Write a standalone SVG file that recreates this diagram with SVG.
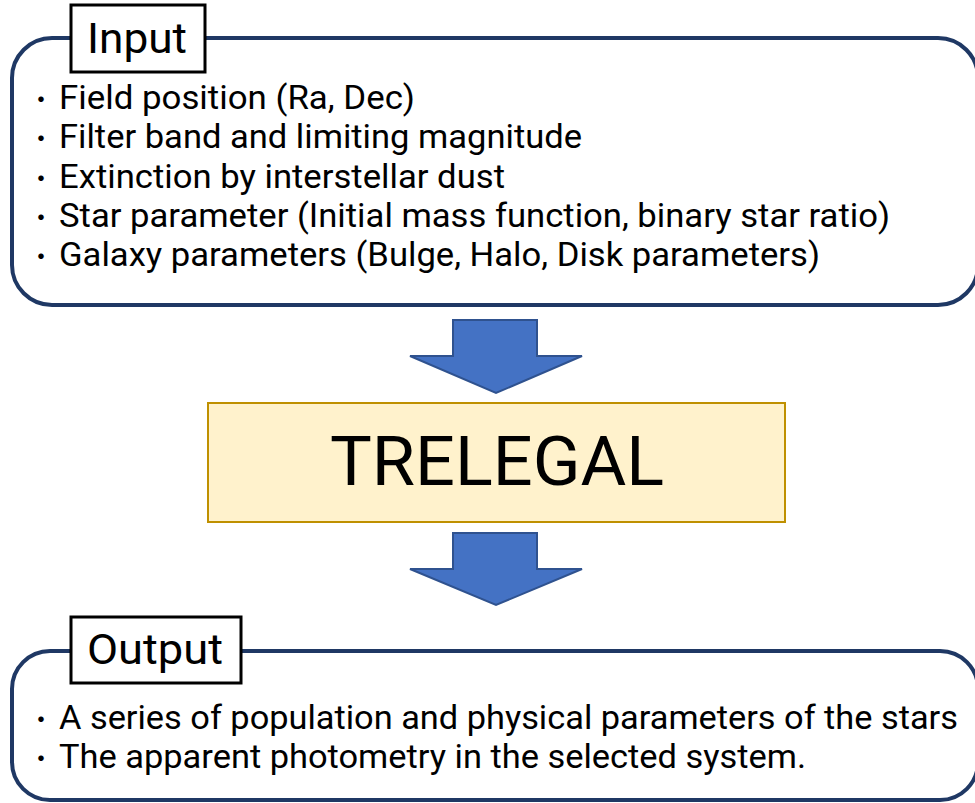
<svg xmlns="http://www.w3.org/2000/svg" width="975" height="803" viewBox="0 0 975 803">
<style>
.frame{fill:#fff;stroke:#1f3864;stroke-width:4}
.lbl{fill:#fff;stroke:#000;stroke-width:3}
.t{font-family:Roboto,"Noto Sans",sans-serif;fill:#000}
.b{font-family:"Noto Sans CJK JP",sans-serif;font-size:26px;fill:#000}
.item{font-size:33px}
.head{font-size:42px}
.arrow{fill:#4472c4;stroke:#2f528f;stroke-width:2;stroke-linejoin:miter}
</style>
<rect width="975" height="803" fill="#fff"/>
<g id="input">
<rect class="frame" x="12" y="38" width="966" height="267" rx="40" ry="40"/>
<rect class="lbl" x="71" y="5" width="134" height="67"/>
<text class="t head" x="87" y="53" textLength="100" lengthAdjust="spacingAndGlyphs">Input</text>
<text class="b" x="28" y="109">・</text>
<text class="t item" x="59" y="109" textLength="356" lengthAdjust="spacingAndGlyphs">Field position (Ra, Dec)</text>
<text class="b" x="28" y="148">・</text>
<text class="t item" x="59" y="148" textLength="523" lengthAdjust="spacingAndGlyphs">Filter band and limiting magnitude</text>
<text class="b" x="28" y="188">・</text>
<text class="t item" x="59" y="188" textLength="446" lengthAdjust="spacingAndGlyphs">Extinction by interstellar dust</text>
<text class="b" x="28" y="227">・</text>
<text class="t item" x="59" y="227" textLength="831" lengthAdjust="spacingAndGlyphs">Star parameter (Initial mass function, binary star ratio)</text>
<text class="b" x="28" y="266">・</text>
<text class="t item" x="59" y="266" textLength="761" lengthAdjust="spacingAndGlyphs">Galaxy parameters (Bulge, Halo, Disk parameters)</text>
</g>
<g id="connectors">
<polygon class="arrow" points="453,320 537,320 537,356 582,356 496,393 410,356 453,356"/>
<polygon class="arrow" points="453,533 537,533 537,569 582,569 496,605 410,569 453,569"/>
</g>
<g id="trelegal">
<rect x="208" y="403" width="577" height="119" fill="#fff2cc" stroke="#bf9000" stroke-width="2"/>
<text class="t" x="497" y="485" font-size="68" text-anchor="middle" textLength="334" lengthAdjust="spacingAndGlyphs">TRELEGAL</text>
</g>
<g id="output">
<rect class="frame" x="12" y="651" width="966" height="149" rx="38" ry="38"/>
<rect class="lbl" x="71" y="617" width="170" height="66"/>
<text class="t head" x="87" y="664" textLength="136" lengthAdjust="spacingAndGlyphs">Output</text>
<text class="b" x="28" y="729">・</text>
<text class="t item" x="59" y="729" textLength="899" lengthAdjust="spacingAndGlyphs">A series of population and physical parameters of the stars</text>
<text class="b" x="28" y="768">・</text>
<text class="t item" x="59" y="768" textLength="747" lengthAdjust="spacingAndGlyphs">The apparent photometry in the selected system.</text>
</g>
</svg>
